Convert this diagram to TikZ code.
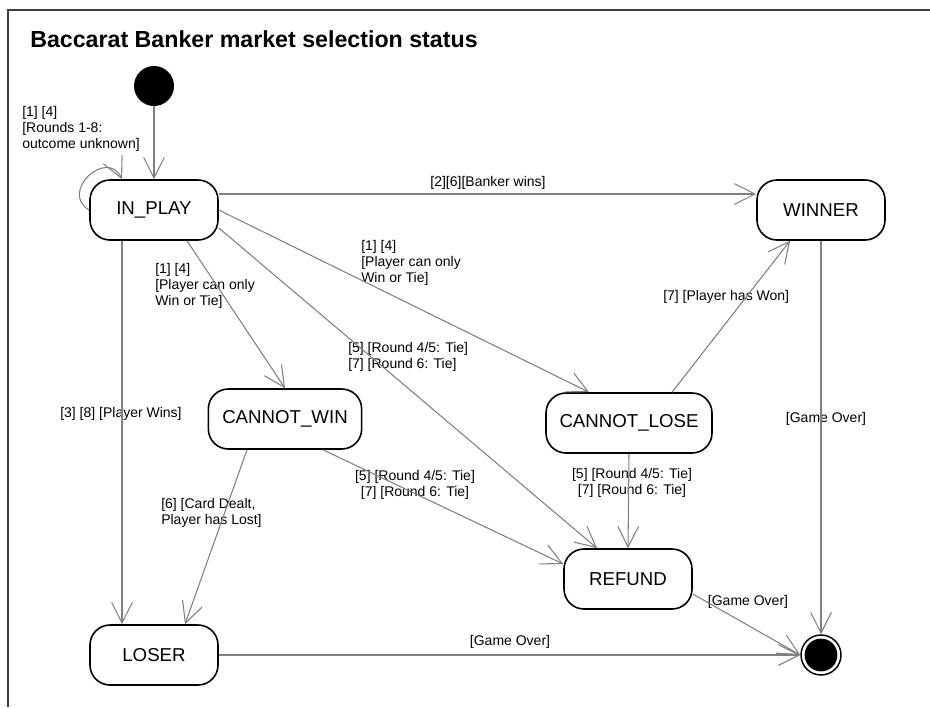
\documentclass[tikz,border=0pt]{standalone}
\usepackage{fontspec}
\setmainfont{Liberation Sans}
\usetikzlibrary{positioning,arrows.meta,shapes.geometric}

\begin{document}
\begin{tikzpicture}[
    x=0.75pt, y=-0.75pt,
    state/.style={rectangle, rounded corners=15pt, draw, line width=1.2pt, minimum width=96pt, minimum height=45pt, font=\fontsize{14}{16}\selectfont},
    trans/.style={draw=black!50, line width=0.8pt, -{Straight Barb[length=15.5pt, width=15.5pt, line width=0.8pt]}},
    guard/.style={inner sep=0pt, align=left, font=\fontsize{10.5}{12}\selectfont},
]
\useasboundingbox (0,0) rectangle (930,707);

% Frame and title
\draw[draw=black!75, line width=0.8pt] (8,707) -- (8,10) -- (930,10);
\node[anchor=base west, inner sep=0pt, font=\fontsize{17.4}{20}\selectfont\bfseries] (T) at (30,47) {Baccarat Banker market selection status};

% States
\node[circle, fill=black, minimum size=30pt, inner sep=0pt] (S) at (154,86) {};
\node[state] (IP) at (154,210) {IN\_PLAY};
\node[state] (W) at (821,210) {WINNER};
\node[state, minimum width=115pt] (CW) at (285,419) {CANNOT\_WIN};
\node[state, minimum width=124.5pt] (CL) at (629,423) {CANNOT\_LOSE};
\node[state] (R) at (628,579) {REFUND};
\node[state] (L) at (154,655) {LOSER};
\node[circle, draw, line width=1.1pt, minimum size=30pt, inner sep=0pt,
      path picture={\fill (path picture bounding box.center) circle (12.3pt);}] (E) at (821,655) {};

% Guards
\node[guard, anchor=north west] (G1) at (22,106) {[1] [4]\\{}[Rounds 1-8:\\outcome unknown]};
\node[guard, anchor=north] (G2) at (488,176) {[2][6][Banker wins]};
\node[guard, anchor=north west] (G3) at (361,240) {[1] [4]\\{}[Player can only\\Win or Tie]};
\node[guard, anchor=north west] (G4) at (155,263) {[1] [4]\\{}[Player can only\\Win or Tie]};
\node[guard, anchor=north west] (G5) at (348,342) {[5] [Round 4/5: Tie]\\{}[7] [Round 6: Tie]};
\node[guard, anchor=north west] (G6) at (663,290) {[7] [Player has Won]};
\node[guard, anchor=north west] (G7) at (60,407) {[3] [8] [Player Wins]};
\node[guard, anchor=north west] (G8) at (161,498) {[6] [Card Dealt,\\Player has Lost]};
\node[guard, anchor=north, align=center] (G9) at (415,470) {[5] [Round 4/5: Tie]\\{}[7] [Round 6: Tie]};
\node[guard, anchor=north, align=center] (G10) at (632,468) {[5] [Round 4/5: Tie]\\{}[7] [Round 6: Tie]};
\node[guard] (G11) at (826,419) {[Game Over]};
\node[guard] (G12) at (748,602) {[Game Over]};
\node[guard] (G13) at (510,642) {[Game Over]};

% Transitions
\draw[trans] (S) -- (IP);
\draw[trans] (IP.west) to[out=150, in=115, looseness=2] ([xshift=-24pt]IP.north);
\draw[trans] ([yshift=12pt]IP.east) -- ([yshift=12pt]W.west);
\draw[trans] (IP.east) -- ([xshift=-30pt]CL.north);
\draw[trans] ([xshift=24.75pt]IP.south) -- (CW.north);
\draw[trans] ([yshift=-13.5pt]IP.east) -- ([xshift=-23.25pt]R.north);
\draw[trans] ([xshift=-24pt]IP.south) -- ([xshift=-24pt]L.north);
\draw[trans] ([xshift=-28.5pt]CW.south) -- ([xshift=23.25pt]L.north);
\draw[trans] ([xshift=28.5pt]CW.south) -- ([yshift=11.25pt]R.west);
\draw[trans] ([xshift=32.25pt]CL.north) -- ([xshift=-23.25pt]W.south);
\draw[trans] (CL.south) -- (R.north);
\draw[trans] (W.south) -- (E.north);
\draw[trans] ([yshift=-11.25pt]R.east) -- (E.west);
\draw[trans] (L.east) -- (E.west);

\end{tikzpicture}
\end{document}
